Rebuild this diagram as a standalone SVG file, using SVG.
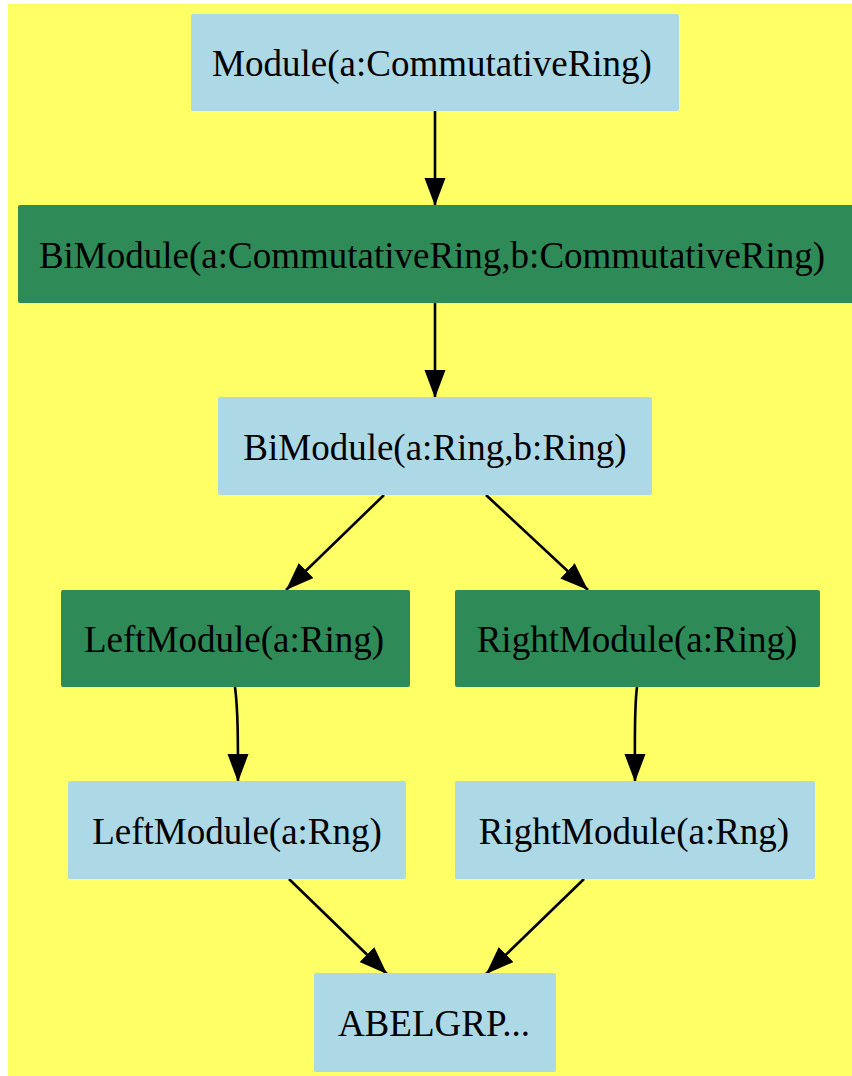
<svg xmlns="http://www.w3.org/2000/svg" width="852" height="1076" viewBox="0 0 852 1076">
<style>
.lb{fill:#ADD8E6}
.sg{fill:#2E8B57}
text{font-size:37px;fill:#000;text-anchor:middle}
.e{fill:none;stroke:#000;stroke-width:2.6}
</style>
<defs>
<marker id="ah" markerUnits="userSpaceOnUse" markerWidth="30" markerHeight="24" refX="28" refY="10.5" orient="auto" viewBox="0 0 30 24">
<path d="M0,0 L28,10.5 L0,21 Z" fill="#000"/>
</marker>
</defs>
<rect x="8" y="4" width="844" height="1072" fill="#FFFF66"/>
<g id="connectors">
<path class="e" d="M435,111 L435,206" marker-end="url(#ah)"/>
<path class="e" d="M435,303 L435,398" marker-end="url(#ah)"/>
<path class="e" d="M384,495 L286,590" marker-end="url(#ah)"/>
<path class="e" d="M486,495 L588,590" marker-end="url(#ah)"/>
<path class="e" d="M235,687 C238,710 238,740 238,782" marker-end="url(#ah)"/>
<path class="e" d="M637,687 C634,710 635,740 635,782" marker-end="url(#ah)"/>
<path class="e" d="M289,879 L387,974" marker-end="url(#ah)"/>
<path class="e" d="M584,879 L486,974" marker-end="url(#ah)"/>
</g>
<g font-family="'Liberation Serif', 'Times New Roman', Times, serif">
<g id="n1"><rect class="lb" x="191" y="14" width="488" height="97" rx="2"/><text x="432" y="76">Module(a:CommutativeRing)</text></g>
<g id="n2"><rect class="sg" x="18" y="205" width="840" height="98" rx="2"/><text x="432" y="268">BiModule(a:CommutativeRing,b:CommutativeRing)</text></g>
<g id="n3"><rect class="lb" x="218" y="397" width="434" height="98" rx="2"/><text x="435" y="460">BiModule(a:Ring,b:Ring)</text></g>
<g id="n4"><rect class="sg" x="61" y="590" width="349" height="97" rx="2"/><text x="234" y="652">LeftModule(a:Ring)</text></g>
<g id="n5"><rect class="sg" x="455" y="590" width="365" height="97" rx="2"/><text x="637" y="652">RightModule(a:Ring)</text></g>
<g id="n6"><rect class="lb" x="68" y="781" width="338" height="98" rx="2"/><text x="237" y="844">LeftModule(a:Rng)</text></g>
<g id="n7"><rect class="lb" x="455" y="781" width="360" height="98" rx="2"/><text x="634" y="844">RightModule(a:Rng)</text></g>
<g id="n8"><rect class="lb" x="314" y="973" width="242" height="99" rx="2"/><text x="434" y="1036">ABELGRP...</text></g>
</g>
</svg>
